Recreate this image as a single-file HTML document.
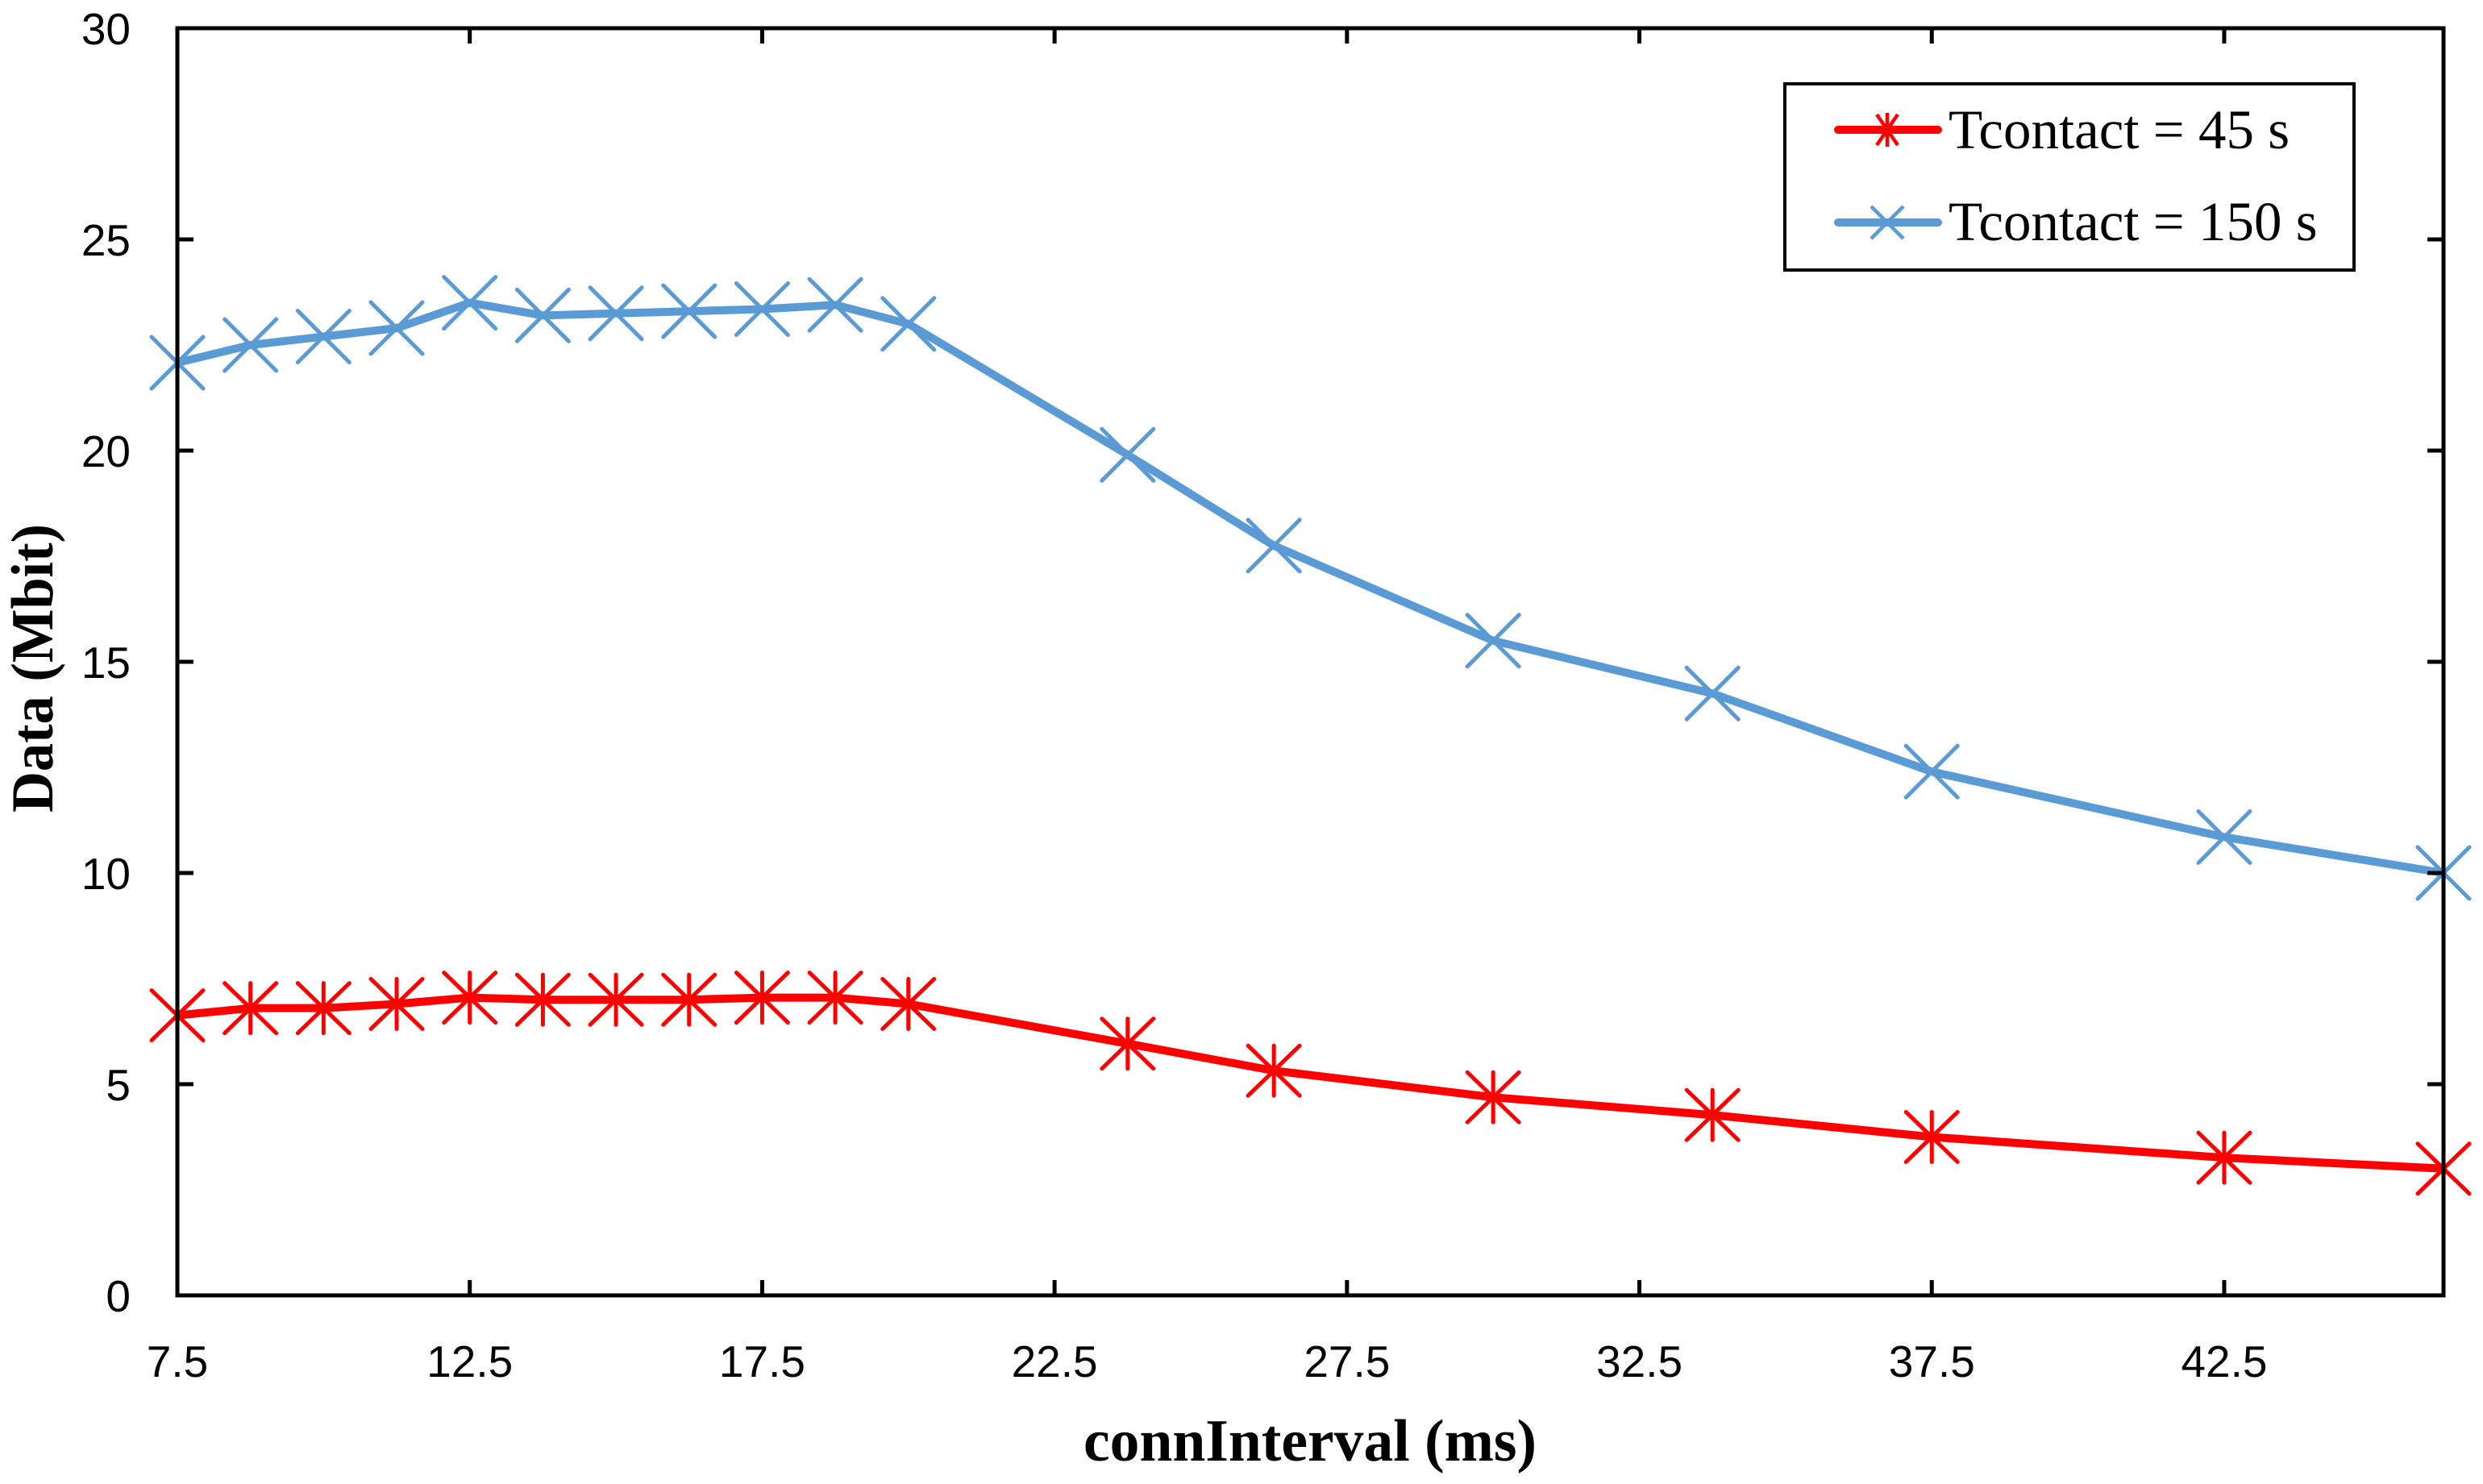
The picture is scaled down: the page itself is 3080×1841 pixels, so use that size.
<!DOCTYPE html>
<html><head><meta charset="utf-8"><style>
html,body{margin:0;padding:0;background:#fff;}
svg{display:block;}
</style></head><body>
<svg id="chart" width="3080" height="1841" xmlns="http://www.w3.org/2000/svg">
<rect x="0" y="0" width="3080" height="1841" fill="#fff"/>
<g id="grid"></g>
<g id="series"></g>
<rect x="220" y="35" width="2811" height="1572" fill="none" stroke="#000" stroke-width="5"/>
<g id="ticks"></g>
<text x="65" y="829" transform="rotate(-90 65 829)" text-anchor="middle" font-family="Liberation Serif, serif" font-weight="bold" font-size="74" textLength="358" lengthAdjust="spacingAndGlyphs">Data (Mbit)</text>
<text x="1625" y="1812" text-anchor="middle" font-family="Liberation Serif, serif" font-weight="bold" font-size="74" textLength="562" lengthAdjust="spacingAndGlyphs">connInterval (ms)</text>
<g>
<rect x="2214" y="104" width="706" height="231" fill="#fff" stroke="#000" stroke-width="4"/>
<g>
<line x1="2280" y1="161" x2="2404" y2="161" stroke="#ff0000" stroke-width="10" stroke-linecap="round"/>
<path d="M2341 140V182M2328 142L2354 180M2354 142L2328 180" stroke="#ff0000" stroke-width="4.5"/>
<text x="2417" y="184" font-family="Liberation Serif, serif" font-size="69">Tcontact = 45 s</text>
</g>
<g>
<line x1="2280" y1="276" x2="2404" y2="276" stroke="#5b9bd5" stroke-width="10" stroke-linecap="round"/>
<path d="M2321 256L2361 296M2361 256L2321 296" stroke="#5b9bd5" stroke-width="4.5"/>
<text x="2417" y="298" font-family="Liberation Serif, serif" font-size="69">Tcontact = 150 s</text>
</g>
</g>
</svg>
<script>
const xValues = [7.5, 8.75, 10, 11.25, 12.5, 13.75, 15, 16.25, 17.5, 18.75, 20, 23.75, 26.25, 30, 33.75, 37.5, 42.5, 46.25];
const series45 = [6.63, 6.8, 6.8, 6.9, 7.05, 7.0, 7.0, 7.0, 7.05, 7.05, 6.9, 5.96, 5.32, 4.69, 4.27, 3.75, 3.26, 3.0];
const series150 = [22.08, 22.5, 22.7, 22.9, 23.5, 23.2, 23.25, 23.3, 23.35, 23.45, 23.0, 19.9, 17.75, 15.5, 14.25, 12.4, 10.85, 10.0];
const xTicks = [7.5, 12.5, 17.5, 22.5, 27.5, 32.5, 37.5, 42.5];
const xTickLabels = ["7.5", "12.5", "17.5", "22.5", "27.5", "32.5", "37.5", "42.5"];
const yTicks = [0, 5, 10, 15, 20, 25, 30];
const yTickLabels = ["0", "5", "10", "15", "20", "25", "30"];

const NS = "http://www.w3.org/2000/svg";
const L = 220, R = 3031, T = 35, B = 1607;
const xMin = 7.5, xMax = 46.25, yMin = 0, yMax = 30;
function xs(v){ return L + (v - xMin) / (xMax - xMin) * (R - L); }
function ys(v){ return B - (v - yMin) / (yMax - yMin) * (B - T); }
function mk(tag, attrs, parent){
  const e = document.createElementNS(NS, tag);
  for (const k in attrs) e.setAttribute(k, attrs[k]);
  parent.appendChild(e);
  return e;
}
const ticks = document.getElementById('ticks');
xTicks.forEach((v, i) => {
  const x = xs(v);
  const t1 = mk('line', {x1:x, y1:B, x2:x, y2:B-19, stroke:'#000', 'stroke-width':5}, ticks);
  
  
  const t2 = mk('line', {x1:x, y1:T, x2:x, y2:T+19, stroke:'#000', 'stroke-width':5}, ticks);
  
  
  const lb = mk('text', {x:x, y:1708, 'text-anchor':'middle', 'font-family':'Liberation Sans, sans-serif', 'font-size':55}, ticks);
  lb.textContent = xTickLabels[i];
  
  
});
yTicks.forEach((v, i) => {
  const y = ys(v);
  const t1 = mk('line', {x1:L, y1:y, x2:L+20, y2:y, stroke:'#000', 'stroke-width':5}, ticks);
  
  
  const t2 = mk('line', {x1:R, y1:y, x2:R-20, y2:y, stroke:'#000', 'stroke-width':5}, ticks);
  
  
  const lb = mk('text', {x:162, y:y+20, 'text-anchor':'end', 'font-family':'Liberation Sans, sans-serif', 'font-size':55}, ticks);
  lb.textContent = yTickLabels[i];
  
  
});
const sg = document.getElementById('series');
function drawSeries(vals, color, kind, name){
  const g = mk('g', {}, sg);
  
  
  const pts = vals.map((v, i) => xs(xValues[i]) + ',' + ys(v)).join(' ');
  const pl = mk('polyline', {points:pts, fill:'none', stroke:color, 'stroke-width':10, 'stroke-linejoin':'round'}, g);
  
  
  vals.forEach((v, i) => {
    const x = xs(xValues[i]), y = ys(v);
    let d;
    if (kind === 'star') d = `M${x} ${y-31}V${y+31}M${x-32} ${y-31}L${x+32} ${y+31}M${x+32} ${y-31}L${x-32} ${y+31}`;
    else d = `M${x-32} ${y-32}L${x+32} ${y+32}M${x+32} ${y-32}L${x-32} ${y+32}`;
    const m = mk('path', {d:d, stroke:color, 'stroke-width':5, fill:'none', 'stroke-linecap':'round'}, g);
    
    
  });
}
drawSeries(series150, '#5b9bd5', 'x', 'series-150s');
drawSeries(series45, '#ff0000', 'star', 'series-45s');
</script>
</body></html>
